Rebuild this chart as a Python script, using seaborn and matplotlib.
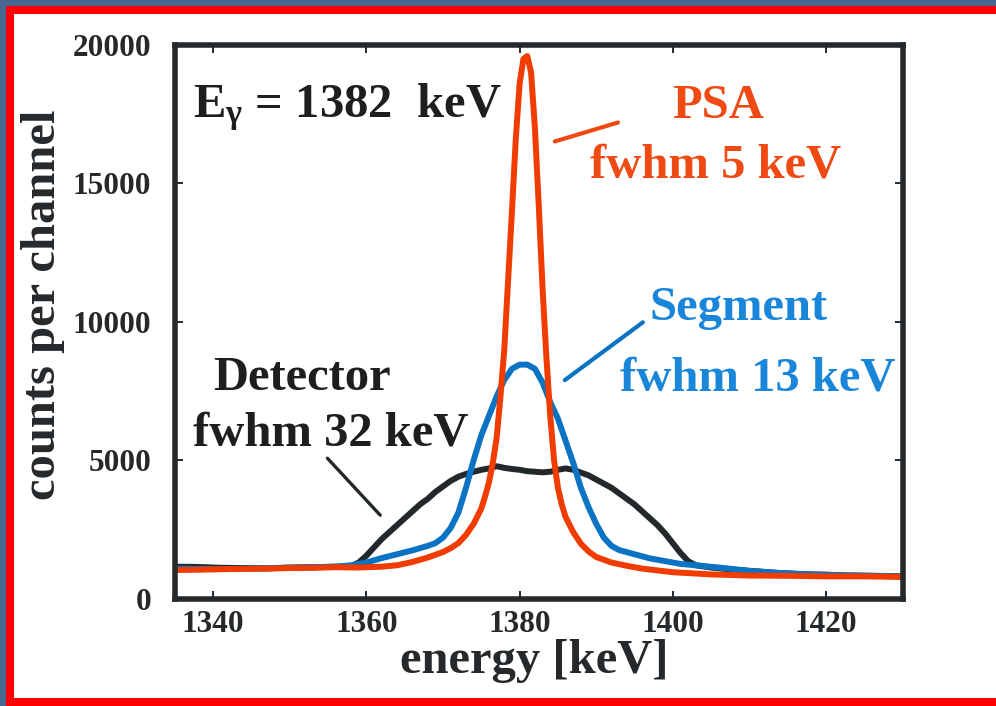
import matplotlib
matplotlib.use("Agg")
import matplotlib.pyplot as plt
from matplotlib.patches import Rectangle
import pandas as pd
import seaborn as sns

# Spectra of the 1382 keV gamma line: energy (keV) and counts per channel
detector_energy = [1335, 1338, 1341, 1344, 1347, 1350, 1353, 1356, 1358, 1359, 1360,
                   1361, 1362, 1363, 1364, 1365, 1366, 1367, 1368, 1369, 1370, 1371,
                   1372, 1373, 1374, 1375, 1376, 1377, 1378, 1379, 1380, 1381, 1382,
                   1383, 1384, 1385, 1386, 1387, 1388, 1389, 1390, 1391, 1392, 1393,
                   1394, 1395, 1396, 1397, 1398, 1399, 1400, 1401, 1402, 1403, 1405,
                   1408, 1411, 1414, 1417, 1420, 1423, 1426, 1430]
detector_counts = [1150, 1140, 1110, 1100, 1090, 1120, 1130, 1150, 1170, 1300, 1550,
                   1850, 2150, 2400, 2650, 2900, 3150, 3400, 3600, 3850, 4050, 4250,
                   4400, 4500, 4580, 4650, 4700, 4780, 4720, 4680, 4650, 4600, 4580,
                   4560, 4580, 4650, 4700, 4650, 4550, 4450, 4300, 4150, 4000, 3800,
                   3600, 3400, 3150, 2900, 2650, 2350, 2000, 1650, 1350, 1200, 1120,
                   1040, 980, 920, 880, 860, 830, 820, 800]

segment_energy = [1335, 1338, 1341, 1344, 1347, 1350, 1353, 1356, 1358, 1360, 1362,
                  1364, 1366, 1368, 1369, 1370, 1371, 1372, 1373, 1374, 1375, 1376,
                  1377, 1378, 1379, 1380, 1381, 1382, 1383, 1384, 1385, 1386, 1387,
                  1388, 1389, 1390, 1391, 1392, 1393, 1395, 1397, 1399, 1401, 1403,
                  1406, 1410, 1414, 1418, 1422, 1426, 1430]
segment_counts = [1080, 1070, 1060, 1080, 1090, 1110, 1130, 1150, 1200, 1300, 1460,
                  1600, 1740, 1900, 2000, 2200, 2550, 3100, 4000, 5000, 5900, 6600,
                  7300, 7900, 8300, 8450, 8450, 8300, 7800, 7100, 6500, 5700, 4900,
                  4000, 3300, 2700, 2200, 1900, 1750, 1600, 1450, 1350, 1250, 1200,
                  1120, 1000, 920, 870, 840, 820, 800]

psa_energy = [1335, 1338, 1341, 1344, 1347, 1350, 1353, 1356, 1359, 1362, 1364,
              1366, 1368, 1370, 1371, 1372, 1373, 1374, 1375, 1375.5, 1376, 1376.5,
              1377, 1377.5, 1378, 1378.5, 1379, 1379.5, 1380, 1380.5, 1381, 1381.5,
              1382, 1382.5, 1383, 1383.5, 1384, 1384.5, 1385, 1385.5, 1386, 1387,
              1388, 1389, 1390, 1392, 1394, 1396, 1400, 1405, 1410, 1415, 1420,
              1425, 1430]
psa_counts = [1030, 1040, 1060, 1070, 1080, 1100, 1110, 1130, 1120, 1150, 1200,
              1320, 1480, 1680, 1820, 2000, 2300, 2700, 3250, 3700, 4200, 4900,
              5800, 7300, 9000, 11500, 14000, 16600, 18600, 19500, 19600, 19000,
              17000, 14200, 11200, 8700, 6600, 5000, 4000, 3400, 2950, 2400,
              1980, 1700, 1500, 1300, 1180, 1080, 950, 870, 830, 820, 800,
              800, 780]

series_names = ["Detector", "Segment", "PSA"]
x_ticks = [1340, 1360, 1380, 1400, 1420]
y_ticks = [0, 5000, 10000, 15000, 20000]

line_colors = {"Detector": "#23282a", "Segment": "#0a73c4", "PSA": "#f03c00"}
ink = "#25292b"

spectra = pd.concat([
    pd.DataFrame({"energy": detector_energy, "counts": detector_counts, "series": "Detector"}),
    pd.DataFrame({"energy": segment_energy, "counts": segment_counts, "series": "Segment"}),
    pd.DataFrame({"energy": psa_energy, "counts": psa_counts, "series": "PSA"}),
], ignore_index=True)

sns.set_theme(style="ticks")
plt.rcParams["font.family"] = ["Liberation Serif", "DejaVu Serif"]
plt.rcParams["font.weight"] = "bold"
plt.rcParams["mathtext.fontset"] = "custom"
plt.rcParams["mathtext.rm"] = "Liberation Serif"
plt.rcParams["mathtext.it"] = "Liberation Serif:italic"
plt.rcParams["mathtext.bf"] = "Liberation Serif:bold"

fig = plt.figure(figsize=(9.96, 7.06), dpi=100)
fig.patch.set_facecolor("#486892")
W, H = 996, 706
fig.add_artist(Rectangle((6 / W, 0), 1, (H - 6) / H, transform=fig.transFigure,
                         facecolor="#ff0000", edgecolor="none", zorder=-3))
fig.add_artist(Rectangle((14 / W, 8 / H), 1, (H - 22) / H, transform=fig.transFigure,
                         facecolor="white", edgecolor="none", zorder=-2))

ax = fig.add_axes([175 / W, 1 - 598.5 / H, 727.5 / W, 553.5 / H])

sns.lineplot(data=spectra, x="energy", y="counts", hue="series",
             hue_order=series_names, palette=line_colors, linewidth=4.3,
             estimator=None, sort=True, legend=False, ax=ax)

ax.set_xlim(1335, 1430)
ax.set_ylim(0, 20000)
ax.set_xticks(x_ticks)
ax.set_yticks(y_ticks)
ax.set_xticklabels([str(t) for t in x_ticks])
ax.set_yticklabels([str(t) for t in y_ticks])

for side in ["left", "right", "top", "bottom"]:
    ax.spines[side].set_linewidth(4.0)
    ax.spines[side].set_color(ink)
ax.tick_params(axis="both", which="major", direction="in", length=6, width=1.4,
               color=ink, labelsize=22.5, labelcolor=ink, top=True, right=True)
ax.tick_params(axis="y", pad=17)
ax.tick_params(axis="x", pad=8)

ax.set_xlabel("energy [keV]", fontsize=35, fontweight="bold", color=ink)
ax.set_ylabel("counts per channel", fontsize=35, fontweight="bold", color=ink)
ax.xaxis.set_label_coords(0.4935, -0.073)
ax.yaxis.set_label_coords(-0.151, 0.531)

txt = dict(fontsize=35, fontweight="bold", va="baseline", ha="left")
ax.text(1337.3, 17380, r"E$_{\mathrm{γ}}$ = 1382  keV", color="#1e1e1e", **txt)
ax.text(1399.9, 17350, "PSA", color="#f04a14", **txt)
ax.text(1389.2, 15220, "fwhm 5 keV", color="#f04a14", **txt)
ax.text(1397.0, 10050, "Segment", color="#1a86da", **txt)
ax.text(1393.1, 7530, "fwhm 13 keV", color="#1a86da", **txt)
ax.text(1340.0, 7530, "Detector", color="#1e1e1e", **txt)
ax.text(1337.4, 5540, "fwhm 32 keV", color="#1e1e1e", **txt)

# leader lines from the labels to the curves
ax.plot([1384.6, 1392.85], [16515, 17200], color="#f04a14", lw=3.0, solid_capstyle="round")
ax.plot([1385.9, 1396.1], [7890, 9980], color="#0a73c4", lw=3.0, solid_capstyle="round")
ax.plot([1354.9, 1361.8], [5070, 3010], color="#23282a", lw=2.4, solid_capstyle="round")

fig.savefig("out.png", dpi=100)
